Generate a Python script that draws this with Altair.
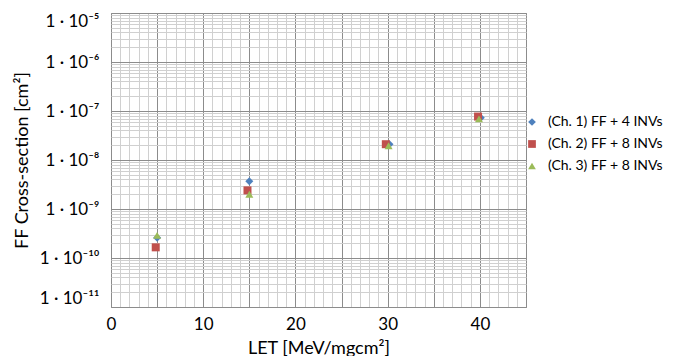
import altair as alt
import pandas as pd

# ---- data ----
series = ["(Ch. 1) FF + 4 INVs", "(Ch. 2) FF + 8 INVs", "(Ch. 3) FF + 8 INVs"]
colors = ["#4F81BD", "#C0504D", "#9BBB59"]
shapes = ["diamond", "square", "triangle-up"]

let_ch1 = [5.0, 15.0, 30.2, 40.1]
xs_ch1 = [2.6e-10, 3.7e-9, 2.1e-8, 7.3e-8]
let_ch2 = [4.85, 14.8, 29.8, 39.8]
xs_ch2 = [1.65e-10, 2.4e-9, 2.1e-8, 7.7e-8]
let_ch3 = [5.0, 15.0, 30.1, 39.9]
xs_ch3 = [2.9e-10, 2.0e-9, 1.95e-8, 6.9e-8]

x_ticks = list(range(0, 46))
y_decades = [-11, -10, -9, -8, -7, -6, -5]
y_labels = ["1 · 10⁻¹¹", "1 · 10⁻¹⁰", "1 · 10⁻⁹", "1 · 10⁻⁸",
            "1 · 10⁻⁷", "1 · 10⁻⁶", "1 · 10⁻⁵"]
y_ticks = [k * 10.0 ** e for e in y_decades[:-1] for k in range(1, 10)] + [1e-5]

rows = []
for name, xs, ys in zip(series, [let_ch1, let_ch2, let_ch3], [xs_ch1, xs_ch2, xs_ch3]):
    for a, b in zip(xs, ys):
        rows.append({"series": name, "LET": a, "xs": b})
df = pd.DataFrame(rows)

MAJOR = "#8c8c8c"
MINOR = "#d0d0d0"
FONT = "Lato"

exp_expr = "round(log(datum.value)/LN10)"
is_major_y = f"abs(log(datum.value)/LN10 - {exp_expr}) < 1e-6"
label_expr = "".join(
    f"({is_major_y} && {exp_expr} == {e}) ? '{lab}' : " for e, lab in zip(y_decades, y_labels)
) + "''"

x_axis = alt.Axis(
    values=x_ticks,
    labelExpr="datum.value % 10 === 0 ? datum.label : ''",
    grid=True,
    gridColor={"condition": {"test": "datum.value % 5 === 0", "value": MAJOR}, "value": MINOR},
    gridWidth=1,
    ticks=False,
    domain=False,
    labelFont=FONT,
    labelFontSize=17,
    labelColor="#000000",
    labelPadding=9,
    labelFlush=False,
    title="LET [MeV/mgcm²]",
    titleFont=FONT,
    titleFontSize=18,
    titleFontWeight="normal",
    titleColor="#000000",
    titlePadding=7,
)

y_axis = alt.Axis(
    values=y_ticks,
    labelExpr=label_expr,
    grid=True,
    gridColor={"condition": {"test": is_major_y, "value": MAJOR}, "value": MINOR},
    gridWidth=1,
    ticks=False,
    domain=False,
    labelFont=FONT,
    labelFontSize=17,
    labelColor="#000000",
    labelPadding=12,
    labelFlush=True,
    title="FF Cross-section [cm²]",
    titleFont=FONT,
    titleFontSize=18,
    titleFontWeight="normal",
    titleColor="#000000",
    titlePadding=8,
)

chart = alt.Chart(df).mark_point(filled=True, opacity=1, size=64).encode(
    x=alt.X("LET:Q", scale=alt.Scale(domain=[0, 45], nice=False, zero=False), axis=x_axis),
    y=alt.Y("xs:Q", scale=alt.Scale(type="log", domain=[1e-11, 1e-5], nice=False), axis=y_axis),
    color=alt.Color("series:N", scale=alt.Scale(domain=series, range=colors),
                    legend=alt.Legend(title=None, orient="none", legendX=414, legendY=102,
                                      labelFont=FONT, labelFontSize=14, labelColor="#000000",
                                      labelOffset=9, rowPadding=8, symbolSize=60,
                                      padding=0)),
    shape=alt.Shape("series:N", scale=alt.Scale(domain=series, range=shapes)),
).properties(
    width=415,
    height=294,
    autosize=alt.AutoSizeParams(type="none"),
    padding={"left": 103, "top": 5, "right": 141, "bottom": 55},
).configure_view(stroke=MAJOR, strokeWidth=1)

chart.save("out.html", embed_options={"renderer": "svg", "actions": False})
